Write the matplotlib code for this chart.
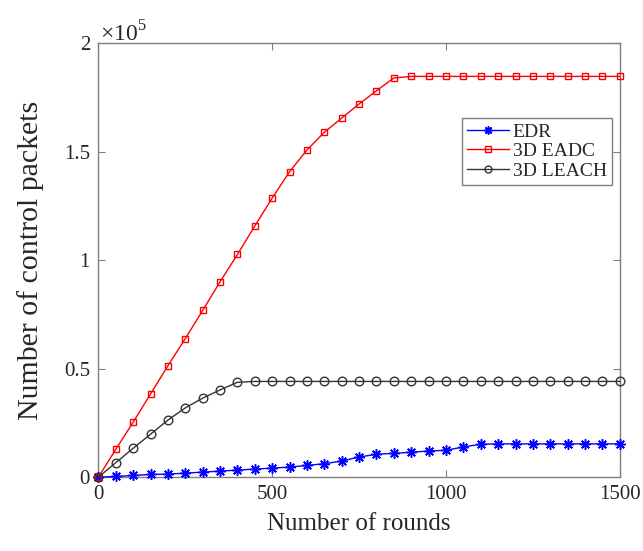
import matplotlib
matplotlib.use("Agg")
import matplotlib.pyplot as plt
from matplotlib.ticker import FuncFormatter

plt.rcParams['font.family'] = ['Liberation Serif', 'DejaVu Serif']
plt.rcParams['mathtext.fontset'] = 'custom'
plt.rcParams['mathtext.rm'] = 'Liberation Serif'

rounds = [0, 50, 100, 150, 200, 250, 300, 350, 400, 450, 500, 550, 600, 650, 700,
          750, 800, 850, 900, 950, 1000, 1050, 1100, 1150, 1200, 1250, 1300, 1350,
          1400, 1450, 1500]
edr = [0, 310, 770, 1240, 1390, 1860, 2320, 2790, 3250, 3720, 4180, 4640, 5420,
       6190, 7430, 9290, 10530, 10990, 11460, 12070, 12380, 13930, 15170, 15330,
       15330, 15330, 15330, 15330, 15330, 15330, 15330]
eadc = [0, 12800, 25300, 38300, 51300, 63800, 76800, 90000, 102600, 115700,
        128600, 140700, 150700, 158900, 165400, 171900, 178000, 183900, 184600,
        184600, 184600, 184600, 184600, 184600, 184600, 184600, 184600, 184600,
        184600, 184600, 184600]
leach = [0, 6660, 13300, 19800, 26300, 31900, 36400, 40200, 43700, 44100, 44100,
         44100, 44100, 44100, 44100, 44100, 44100, 44100, 44100, 44100, 44100,
         44100, 44100, 44100, 44100, 44100, 44100, 44100, 44100, 44100, 44100]

labels = ['EDR', '3D EADC', '3D LEACH']
x_ticks = [0, 500, 1000, 1500]
y_ticks = [0, 50000, 100000, 150000, 200000]

txt = '#262626'
spine = '#7f7f7f'

fig = plt.figure(figsize=(6.43, 5.51), dpi=100)
ax = fig.add_axes([0.153, 0.134, 0.811, 0.788])

ax.plot(rounds, edr, color='blue', lw=1.0, marker=(8, 2, 0), ms=7.5, mew=1.1,
        label=labels[0], clip_on=False, zorder=3)
ax.plot(rounds, eadc, color='red', lw=1.0, marker='s', ms=5, mfc='none',
        mew=1.0, label=labels[1], clip_on=False, zorder=3)
ax.plot(rounds, leach, color='#333333', lw=1.0, marker='o', ms=6.2, mfc='none',
        mew=1.0, label=labels[2], clip_on=False, zorder=3)

ax.set_xlim(0, 1500)
ax.set_ylim(0, 200000)
ax.set_xticks(x_ticks)
ax.set_yticks(y_ticks)
ax.yaxis.set_major_formatter(FuncFormatter(lambda v, p: '%g' % (v / 1e5)))
ax.tick_params(direction='in', top=True, right=True, length=5, width=0.8,
               colors=spine, labelcolor=txt, labelsize=15, pad=6)
for s in ax.spines.values():
    s.set_color(spine)
    s.set_linewidth(1.0)

ax.set_xlabel('Number of rounds', fontsize=18, color=txt, labelpad=6)
ax.set_ylabel('Number of control packets', fontsize=21.5, color=txt, labelpad=14)

fig.text(0.155, 0.925, r'$\times10^{5}$', fontsize=17, color=txt,
         ha='left', va='baseline')

leg = ax.legend(loc='upper right', bbox_to_anchor=(0.984, 0.827), fontsize=14,
                fancybox=False, framealpha=1, edgecolor=spine,
                borderpad=0.25, labelspacing=0.1, handlelength=2.15,
                handletextpad=0.2, borderaxespad=0, markerscale=0.8)
leg.get_frame().set_linewidth(1.0)
for t in leg.get_texts():
    t.set_color(txt)

fig.savefig('out.png', dpi=100)
